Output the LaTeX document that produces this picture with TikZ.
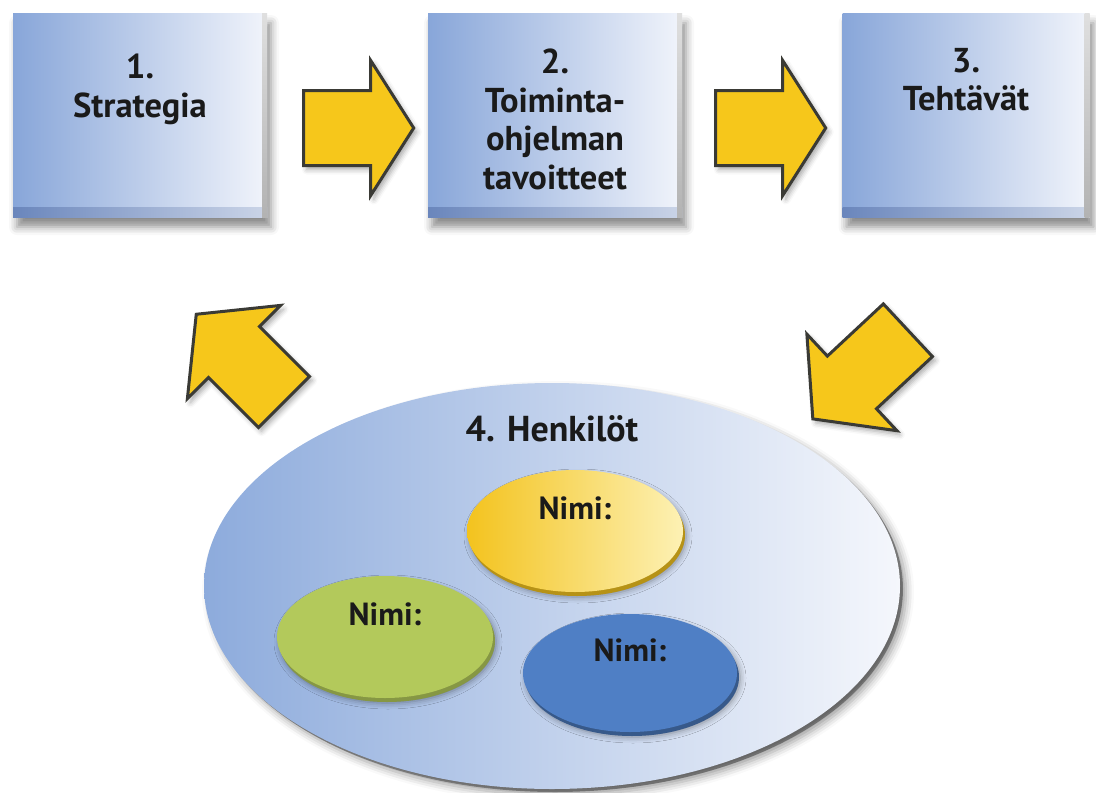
\documentclass[tikz,border=0pt]{standalone}
\usepackage{fontspec}
\setmainfont{PT Sans}
\usetikzlibrary{positioning,calc,shapes.geometric,shapes.arrows,shadows.blur}

\definecolor{boxleft}{HTML}{88A6D9}
\definecolor{boxmid}{HTML}{B2C5E9}
\definecolor{boxright}{HTML}{F1F4FB}
\definecolor{boxrim}{HTML}{6A86BC}
\definecolor{arrowfill}{HTML}{F6C71B}
\definecolor{arrowline}{HTML}{3A3A35}
\definecolor{ovalleft}{HTML}{8DABDC}
\definecolor{ovalmid}{HTML}{B5C8E9}
\definecolor{ovalright}{HTML}{F5F7FC}
\definecolor{yelleft}{HTML}{F3C31E}
\definecolor{yelright}{HTML}{FDF1B4}
\definecolor{greenfill}{HTML}{B3C95B}
\definecolor{bluefill}{HTML}{4F7FC5}
\definecolor{inktext}{HTML}{1A1A1A}

\tikzset{
  stepbox/.style={rectangle, minimum width=254pt, minimum height=204pt, inner sep=0pt,
    left color=boxleft, middle color=boxmid, right color=boxright,
    blur shadow={shadow xshift=4pt, shadow yshift=-10pt, shadow blur radius=8pt, shadow opacity=45},
    path picture={
      \shade[left color=boxrim, right color=boxrim!35!white]
        (path picture bounding box.south west) rectangle ([yshift=10pt]path picture bounding box.south east);
      \shade[top color=gray!25, bottom color=gray!60]
        ([xshift=-5pt]path picture bounding box.north east) rectangle (path picture bounding box.south east);
    }},
  boxtext/.style={align=center, inner sep=0pt, text=inktext,
    font=\bfseries\fontsize{34.5}{38.5}\selectfont},
  fatarrow/.style={single arrow, fill=arrowfill, draw=arrowline, line width=3pt, line join=miter,
    minimum height=110pt, inner xsep=0pt, inner ysep=36pt, single arrow head extend=30pt,
    single arrow tip angle=115, anchor=tail,
    blur shadow={shadow xshift=3pt, shadow yshift=-4pt, shadow blur radius=5pt, shadow opacity=35}},
  oval/.style={ellipse, minimum width=696pt, minimum height=406pt, inner sep=0pt,
    left color=ovalleft, middle color=ovalmid, right color=ovalright,
    preaction={fill=gray!70, transform canvas={shift={(3pt,-3pt)}}},
    blur shadow={shadow xshift=6pt, shadow yshift=-6pt, shadow blur radius=8pt, shadow opacity=40}},
  person/.style={ellipse, minimum width=216pt, minimum height=122pt, inner sep=0pt,
    blur shadow={shadow xshift=3pt, shadow yshift=-5pt, shadow blur radius=6pt, shadow opacity=40}},
  titletext/.style={inner sep=0pt, text=inktext, font=\bfseries\fontsize{36}{40}\selectfont},
  nametext/.style={inner sep=0pt, text=inktext, font=\bfseries\fontsize{32}{36}\selectfont},
}

\begin{document}
\begin{tikzpicture}[x=1pt, y=-1pt]
  \useasboundingbox (0,0) rectangle (1096,793);

  % the three steps
  \node[stepbox] (strat) at (140,115) {};
  \node[stepbox] (goals) at (555,115) {};
  \node[stepbox, minimum width=247pt] (tasks) at (966,115) {};
  \node[boxtext, below=41pt of strat.north] (strat-t) {1.\\Strategia};
  \node[boxtext, below=36pt of goals.north] (goals-t) {2.\\Toiminta-\\ohjelman\\tavoitteet};
  \node[boxtext, below=35pt of tasks.north] (tasks-t) {3.\\Tehtävät};

  % the people
  \node[oval] (team) at (552,586) {};
  \node[titletext, below=33pt of team.north] (team-t) {4. Henkilöt};
  \node[person, left color=yelleft, right color=yelright,
        preaction={fill=yelleft!75!black, transform canvas={shift={(2pt,-4pt)}}}]
        (p1) at (575,531) {};
  \node[person, fill=greenfill,
        preaction={fill=greenfill!75!black, transform canvas={shift={(2pt,-4pt)}}}]
        (p2) at (385,637) {};
  \node[person, fill=bluefill, minimum width=214pt, minimum height=118pt,
        preaction={fill=bluefill!70!black, transform canvas={shift={(2pt,-4pt)}}}]
        (p3) at (630,673) {};
  \node[nametext, below=27pt of p1.north] (p1-t) {Nimi:};
  \node[nametext, below=27pt of p2.north] (p2-t) {Nimi:};
  \node[nametext, below=25pt of p3.north] (p3-t) {Nimi:};

  % the arrows between them
  \node[fatarrow] (a12) at ($(strat.east)+(35,13)$) {};
  \node[fatarrow] (a23) at ($(goals.east)+(32,13)$) {};
  \node[fatarrow, rotate=223, minimum height=130pt, inner ysep=34.5pt, single arrow tip angle=102]
    (a34) at ($(tasks.south)+(-57,112)$) {};
  \node[fatarrow, rotate=135, minimum height=124pt, inner ysep=34.5pt, single arrow tip angle=102]
    (a41) at (285,403) {};
\end{tikzpicture}
\end{document}
